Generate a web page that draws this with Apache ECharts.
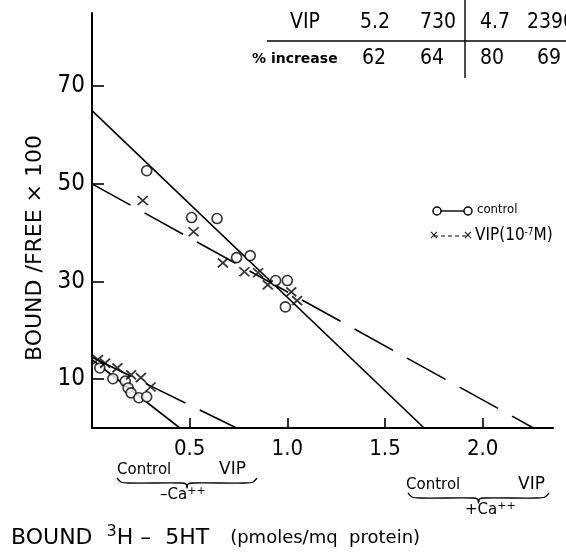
<!DOCTYPE html>
<html lang="en">
  <head>
    <title>Scatchard plot</title>
    <meta charset="UTF-8" />
    <script src="https://cdn.jsdelivr.net/npm/echarts@6/dist/echarts.min.js"></script>
    <style>
      html, body { margin: 0; padding: 0; background: #fff; }
      #main { width: 566px; height: 554px; }
    </style>
  </head>
  <body>
    <div id="main"></div>
    <script>
      // ticks
      const xTicks = [0.5, 1.0, 1.5, 2.0];
      const yTicks = [10, 30, 50, 70];

      // points (bound, bound/free x100)
      const ctrlHigh = [[0.28, 52.7], [0.51, 43.1], [0.64, 42.9], [0.74, 34.9], [0.81, 35.3],
                        [0.94, 30.2], [1.0, 30.2], [0.99, 24.8]];
      const vipHigh = [[0.26, 46.6], [0.52, 40.2], [0.67, 33.8], [0.78, 32.0], [0.85, 31.8],
                       [0.90, 29.3], [1.02, 27.9], [1.05, 26.1]];
      const ctrlLow = [[0.04, 12.3], [0.107, 10.1], [0.17, 9.6], [0.185, 8.2], [0.2, 7.2],
                       [0.24, 6.2], [0.28, 6.4]];
      const vipLow = [[0.03, 14.0], [0.067, 13.3], [0.13, 12.3], [0.2, 10.9], [0.25, 10.3],
                      [0.3, 8.4]];

      // fitted lines
      const ctrlLineHigh = [[0, 65], [1.70, 0]];
      const vipLineHigh = [[0, 50], [2.26, 0]];
      const ctrlLineLow = [[0, 14], [0.45, 0]];
      const vipLineLow = [[0, 14.5], [0.74, 0]];

      // table in the top corner
      const tableRow1 = ['VIP', '5.2', '730', '4.7', '2390'];
      const tableRow2 = ['% increase', '62', '64', '80', '69'];

      const FONT = '"DejaVu Sans Condensed", "Liberation Sans Narrow", "DejaVu Sans", sans-serif';
      const WIDE = '"DejaVu Sans", sans-serif';
      const crossPath = 'path://M0,0L10,10M10,0L0,10';

      var myChart = echarts.init(document.getElementById('main'));

      function fitLine(data, dashed) {
        return {
          type: 'line', data: data, symbol: 'none', silent: true, z: 2,
          lineStyle: { color: '#000', width: 1.6, type: dashed ? [44, 16] : 'solid' }
        };
      }
      function ptsSeries(data, isCross) {
        return {
          type: 'scatter', data: data, z: 3,
          symbol: isCross ? crossPath : 'circle',
          symbolSize: isCross ? [10, 9] : 10,
          itemStyle: isCross
            ? { color: 'transparent', borderColor: '#000', borderWidth: 1.8 }
            : { color: '#fff', borderColor: '#000', borderWidth: 1.6 }
        };
      }
      function txt(x, y, text, size, fam, extra) {
        return Object.assign({ type: 'text', x: x, y: y,
          style: { text: text, fontSize: size, fontFamily: fam || FONT, fill: '#000', verticalAlign: 'middle' } }, extra || {});
      }

      // table text
      let g = [];
      const col1 = [290, 360, 420, 480, 527];
      const col2 = [252, 362, 420, 480, 537];
      tableRow1.forEach((t, i) => g.push(txt(col1[i], 23, t, 21)));
      tableRow2.forEach((t, i) => {
        let e = txt(col2[i], 59, t, i === 0 ? 14 : 21, i === 0 ? WIDE : FONT);
        if (i === 0) e.style.fontWeight = 'bold';
        g.push(e);
      });
      g.push({ type: 'line', shape: { x1: 267, y1: 41, x2: 566, y2: 41 }, style: { stroke: '#000', lineWidth: 1.4 } });
      g.push({ type: 'line', shape: { x1: 465, y1: 0, x2: 465, y2: 78 }, style: { stroke: '#000', lineWidth: 1.4 } });

      // legend
      g.push({ type: 'line', shape: { x1: 437, y1: 211, x2: 468, y2: 211 }, style: { stroke: '#000', lineWidth: 1.4 } });
      g.push({ type: 'circle', shape: { cx: 437, cy: 211, r: 4 }, style: { fill: '#fff', stroke: '#000', lineWidth: 1.5 } });
      g.push({ type: 'circle', shape: { cx: 468, cy: 211, r: 4 }, style: { fill: '#fff', stroke: '#000', lineWidth: 1.5 } });
      g.push(txt(477, 210, 'control', 13));
      g.push({ type: 'line', shape: { x1: 434, y1: 236, x2: 468, y2: 236 }, style: { stroke: '#000', lineWidth: 1.2, lineDash: [4, 3] } });
      g.push(txt(429, 236, '×', 13));
      g.push(txt(463, 236, '×', 13));
      g.push({ type: 'text', x: 475, y: 236, style: {
        text: '{a|VIP(10}{s|-7}{a|M)}', verticalAlign: 'middle',
        rich: { a: { fontSize: 17, fontFamily: FONT, fill: '#000' },
                s: { fontSize: 10, fontFamily: FONT, fill: '#000', padding: [0, 0, 8, 0] } }
      } });

      // axis titles
      g.push({ type: 'text', x: 35, y: 248, rotation: Math.PI / 2,
        style: { text: 'BOUND /FREE × 100', fontSize: 22, fontFamily: WIDE, fill: '#000', align: 'center', verticalAlign: 'middle' } });
      g.push({ type: 'text', x: 11, y: 538, style: {
        text: '{a|BOUND  }{s|3}{a|H –  5HT   }{b|(pmoles/mq  protein)}', verticalAlign: 'middle',
        rich: {
          a: { fontSize: 22, fontFamily: WIDE, fill: '#000' },
          b: { fontSize: 18, fontFamily: WIDE, fill: '#000' },
          s: { fontSize: 16, fontFamily: WIDE, fill: '#000', padding: [0, 0, 12, 0] }
        }
      } });

      // brace annotations under the x axis
      function brace(x1, x2, y) {
        const m = (x1 + x2) / 2;
        return { type: 'polyline', shape: { smooth: 0.3, points: [
          [x1, y - 5], [x1 + 4, y - 1], [x1 + 12, y], [m - 6, y], [m - 1, y + 1], [m, y + 5],
          [m + 1, y + 1], [m + 6, y], [x2 - 12, y], [x2 - 4, y - 1], [x2, y - 5]] },
          style: { fill: 'none', stroke: '#000', lineWidth: 1.3 } };
      }
      const caRich = { a: { fontSize: 15, fontFamily: WIDE, fill: '#000' },
                       s: { fontSize: 11, fontFamily: WIDE, fill: '#000', padding: [0, 0, 7, 0] } };
      g.push(txt(117, 470, 'Control', 15, WIDE));
      g.push(txt(219, 470, 'VIP', 17, WIDE));
      g.push(brace(117, 257, 483));
      g.push({ type: 'text', x: 160, y: 495, style: { text: '{a|–Ca}{s|++}', verticalAlign: 'middle', rich: caRich } });
      g.push(txt(406, 485, 'Control', 15, WIDE));
      g.push(txt(518, 485, 'VIP', 17, WIDE));
      g.push(brace(408, 549, 498));
      g.push({ type: 'text', x: 465, y: 510, style: { text: '{a|+Ca}{s|++}', verticalAlign: 'middle', rich: caRich } });

      option = {
        backgroundColor: '#fff',
        animation: false,
        grid: { left: 92, right: 13, top: 13, bottom: 126 },
        xAxis: {
          type: 'value', min: 0, max: 2.36,
          axisLine: { lineStyle: { color: '#000', width: 2 } },
          axisTick: { inside: true, length: 10, customValues: xTicks, lineStyle: { color: '#000', width: 1.6 } },
          axisLabel: { customValues: xTicks, margin: 10, color: '#000', fontSize: 22, fontFamily: FONT,
            formatter: v => v.toFixed(1) },
          splitLine: { show: false }
        },
        yAxis: {
          type: 'value', min: 0, max: 85,
          axisLine: { show: true, lineStyle: { color: '#000', width: 2 } },
          axisTick: { show: true, inside: true, length: 12, customValues: yTicks, lineStyle: { color: '#000', width: 1.6 } },
          axisLabel: { customValues: yTicks, margin: 7, color: '#000', fontSize: 24, fontFamily: FONT },
          splitLine: { show: false }
        },
        graphic: g,
        series: [
          fitLine(ctrlLineHigh, false),
          fitLine(vipLineHigh, true),
          fitLine(ctrlLineLow, false),
          fitLine(vipLineLow, true),
          ptsSeries(ctrlHigh, false),
          ptsSeries(ctrlLow, false),
          ptsSeries(vipHigh, true),
          ptsSeries(vipLow, true)
        ]
      };
      myChart.setOption(option);
    </script>
  </body>
</html>
